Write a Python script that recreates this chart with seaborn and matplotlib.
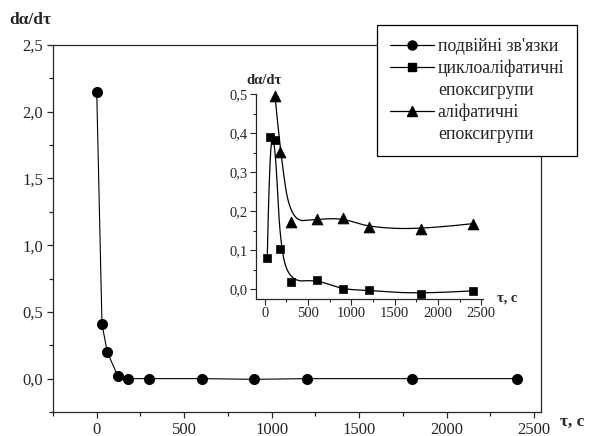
import numpy as np
import pandas as pd
import matplotlib
matplotlib.use("Agg")
import matplotlib.pyplot as plt
import seaborn as sns
from matplotlib.ticker import MultipleLocator, FuncFormatter
from matplotlib.lines import Line2D

# main series: double bonds
t_main = [0, 30, 60, 120, 180, 300, 600, 900, 1200, 1800, 2400]
v_double = [2.15, 0.41, 0.20, 0.02, 0.0, 0.0, 0.0, -0.005, 0.0, 0.0, 0.0]

# inset series
t_cyclo = [30, 60, 120, 180, 300, 600, 900, 1200, 1800, 2400]
v_cyclo = [0.081, 0.390, 0.382, 0.104, 0.019, 0.024, 0.0, -0.003, -0.012, -0.004]
t_aliph = [120, 180, 300, 600, 900, 1200, 1800, 2400]
v_aliph = [0.494, 0.352, 0.173, 0.179, 0.182, 0.159, 0.153, 0.168]

labels = ["подвійні зв'язки", "циклоаліфатичні", "епоксигрупи",
          "аліфатичні", "епоксигрупи"]


def bspline(xs, ys, k=2, num=400):
    # clamped uniform B-spline, data points used as control points
    P = np.column_stack([xs, ys]).astype(float)
    n = len(P)
    t = np.concatenate([np.zeros(k), np.linspace(0, 1, n - k + 1), np.ones(k)])
    u = np.linspace(0, 1, num)
    u[-1] = 1 - 1e-12
    N = np.zeros((num, len(t) - 1))
    for i in range(len(t) - 1):
        N[:, i] = (u >= t[i]) & (u < t[i + 1])
    for d in range(1, k + 1):
        Nn = np.zeros((num, len(t) - 1 - d))
        for i in range(len(t) - 1 - d):
            a = t[i + d] - t[i]
            b = t[i + d + 1] - t[i + 1]
            left = (u - t[i]) / a * N[:, i] if a > 0 else 0
            right = (t[i + d + 1] - u) / b * N[:, i + 1] if b > 0 else 0
            Nn[:, i] = left + right
        N = Nn
    C = N @ P
    return pd.DataFrame({"t": C[:, 0], "v": C[:, 1]})


sns.set_style("ticks")
plt.rcParams["font.family"] = ["Liberation Serif", "DejaVu Serif"]
plt.rcParams["axes.linewidth"] = 0.9

comma = FuncFormatter(lambda v, p: f"{v:.1f}".replace(".", ","))
intfmt = FuncFormatter(lambda v, p: f"{v:.0f}")

fig = plt.figure(figsize=(5.92, 4.36), dpi=100)
ax = fig.add_axes([53 / 592, 1 - 412 / 436, 488 / 592, 367 / 436])

main_df = pd.DataFrame({"t": t_main, "v": v_double})
sns.lineplot(data=main_df, x="t", y="v", ax=ax, color="black", lw=0.8,
             marker="o", markersize=7.2, markeredgecolor="black", sort=False)
ax.set_xlim(-250, 2540)
ax.set_ylim(-0.25, 2.5)
ax.xaxis.set_major_locator(MultipleLocator(500))
ax.xaxis.set_minor_locator(MultipleLocator(250))
ax.yaxis.set_major_locator(MultipleLocator(0.5))
ax.yaxis.set_minor_locator(MultipleLocator(0.25))
ax.yaxis.set_major_formatter(comma)
ax.xaxis.set_major_formatter(intfmt)
ax.tick_params(which="major", length=4, width=0.9, labelsize=12, pad=3)
ax.tick_params(which="minor", length=3, width=0.9)
ax.set_xlabel("")
ax.set_ylabel("")
for s in ax.spines.values():
    s.set_visible(True)

fig.text(30 / 592, 1 - 20 / 436, "dα/dτ", fontsize=12.5, fontweight="bold",
         ha="center", va="center")
fig.text(572 / 592, 1 - 422 / 436, "τ, c", fontsize=12.5, fontweight="bold",
         ha="center", va="center")

# inset
ins = fig.add_axes([256 / 592, 1 - 299 / 436, 227 / 592, 205 / 436])
ins.patch.set_alpha(0)
cyc_curve = bspline(t_cyclo, v_cyclo)
ali_curve = bspline(t_aliph, v_aliph)
sns.lineplot(data=cyc_curve, x="t", y="v", ax=ins, color="black", lw=0.9,
             sort=False, estimator=None)
sns.lineplot(data=ali_curve, x="t", y="v", ax=ins, color="black", lw=0.9,
             sort=False, estimator=None)
sns.scatterplot(x=t_cyclo, y=v_cyclo, ax=ins, marker="s", s=36, color="black",
                edgecolor="black", clip_on=False, zorder=3)
sns.scatterplot(x=t_aliph, y=v_aliph, ax=ins, marker="^", s=60, color="black",
                edgecolor="black", clip_on=False, zorder=3)
ins.set_xlim(-100, 2520)
ins.set_ylim(-0.025, 0.5)
ins.xaxis.set_major_locator(MultipleLocator(500))
ins.xaxis.set_minor_locator(MultipleLocator(250))
ins.yaxis.set_major_locator(MultipleLocator(0.1))
ins.yaxis.set_minor_locator(MultipleLocator(0.05))
ins.yaxis.set_major_formatter(comma)
ins.xaxis.set_major_formatter(intfmt)
ins.tick_params(which="major", length=4, width=0.8, labelsize=10.5, pad=2)
ins.tick_params(which="minor", length=2.5, width=0.8)
ins.spines["top"].set_visible(False)
ins.spines["right"].set_visible(False)
ins.set_xlabel("")
ins.set_ylabel("")

fig.text(264 / 592, 1 - 80 / 436, "dα/dτ", fontsize=10.5, fontweight="bold",
         ha="center", va="center")
fig.text(507 / 592, 1 - 298 / 436, "τ, c", fontsize=10.5, fontweight="bold",
         ha="center", va="center")

# legend
handles = [
    Line2D([], [], color="black", lw=0.9, marker="o", markersize=6.5),
    Line2D([], [], color="black", lw=0.9, marker="s", markersize=6),
    Line2D([], [], color="none"),
    Line2D([], [], color="black", lw=0.9, marker="^", markersize=7.5),
    Line2D([], [], color="none"),
]
leg = fig.legend(handles, labels, loc="upper left",
                 bbox_to_anchor=(377 / 592, 1 - 25 / 436), fontsize=12.8,
                 frameon=True, fancybox=False, framealpha=1, edgecolor="black",
                 handlelength=2.5, handletextpad=0.2, labelspacing=0.27,
                 borderpad=0.72, borderaxespad=0)
leg.get_frame().set_linewidth(0.9)

fig.savefig("out.png", dpi=100)
